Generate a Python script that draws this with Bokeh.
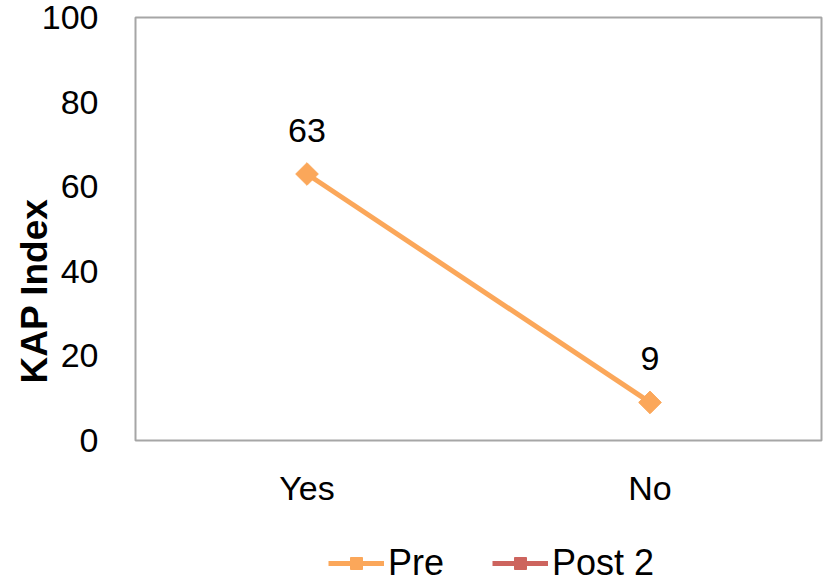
from bokeh.plotting import figure
from bokeh.layouts import column
from bokeh.models import (ColumnDataSource, FactorRange, Range1d, Legend, LegendItem,
                          LabelSet, FixedTicker, Title)
from bokeh.core.properties import value
from bokeh.embed import file_html
from bokeh.resources import INLINE

# Data
categories = ["Yes", "No"]
pre_values = [63, 9]
post2_values = [float("nan"), float("nan")]   # Post 2 has no values to plot
y_ticks = [0, 20, 40, 60, 80, 100]
series_names = ["Pre", "Post 2"]

FONT = "Liberation Sans"
PRE_COLOR = "#FBA75A"
POST_COLOR = "#CD645E"

# ---- main chart ----
p = figure(width=825, height=520, x_range=FactorRange(*categories, range_padding=0),
           y_range=Range1d(0, 100), output_backend="svg", toolbar_location=None,
           min_border_left=135, min_border_right=4, min_border_top=17, min_border_bottom=80)
p.frame_width = 686
p.frame_height = 423

p.outline_line_color = "#A6A6A6"
p.outline_line_width = 2
p.grid.visible = False
p.background_fill_color = "white"
p.border_fill_color = "white"

for ax in (p.xaxis[0], p.yaxis[0]):
    ax.axis_line_color = None
    ax.major_tick_line_color = None
    ax.minor_tick_line_color = None
    ax.major_label_text_font = FONT
    ax.major_label_text_font_size = "34px"
    ax.major_label_text_color = "black"
p.yaxis[0].ticker = FixedTicker(ticks=y_ticks)
p.yaxis[0].major_label_standoff = 31
p.xaxis[0].major_label_standoff = 22

src = ColumnDataSource(dict(x=categories, y=pre_values, lbl=[str(v) for v in pre_values]))
post_src = ColumnDataSource(dict(x=categories, y=post2_values))


def draw_series(fig):
    """Draw both series on a figure; returns the renderers for the legend."""
    a = fig.line("x", "y", source=src, line_color=PRE_COLOR, line_width=5)
    b = fig.scatter("x", "y", source=src, marker="square", size=16, angle=0.785398,
                    fill_color=PRE_COLOR, line_color=PRE_COLOR)
    c = fig.line("x", "y", source=post_src, line_color=POST_COLOR, line_width=5)
    d = fig.scatter("x", "y", source=post_src, marker="square", size=17,
                    fill_color=POST_COLOR, line_color=POST_COLOR)
    return [a, b], [c, d]


draw_series(p)

# value labels above the points
p.add_layout(LabelSet(x="x", y="y", text="lbl", source=src, y_offset=32,
                      text_align="center", text_baseline="bottom",
                      text_font=value(FONT), text_font_size=value("34px"),
                      text_color="black"))

# y axis title
p.add_layout(Title(text="KAP Index", align="left", offset=57, standoff=-32,
                   text_font=FONT, text_font_size="37px", text_font_style="bold",
                   text_color="black"), "left")

# ---- legend strip (its view range is kept away from the data) ----
leg = figure(width=825, height=64, x_range=FactorRange(*categories, range_padding=0),
             y_range=Range1d(-300, -200), output_backend="svg", toolbar_location=None,
             min_border=0)
leg.axis.visible = False
leg.grid.visible = False
leg.outline_line_color = None
leg.border_fill_color = "white"
leg.background_fill_color = "white"

pre_r, post_r = draw_series(leg)

legend = Legend(items=[LegendItem(label=series_names[0], renderers=pre_r),
                       LegendItem(label=series_names[1], renderers=post_r)],
                orientation="horizontal", location=(193, 0),
                label_text_font=FONT, label_text_font_size="36px", label_text_color="black",
                glyph_width=56, glyph_height=30, label_standoff=4, spacing=48,
                border_line_color=None, background_fill_alpha=0, padding=0, margin=0)
leg.add_layout(legend, "center")

open("out.html", "w").write(file_html(column(p, leg, spacing=0), INLINE))
